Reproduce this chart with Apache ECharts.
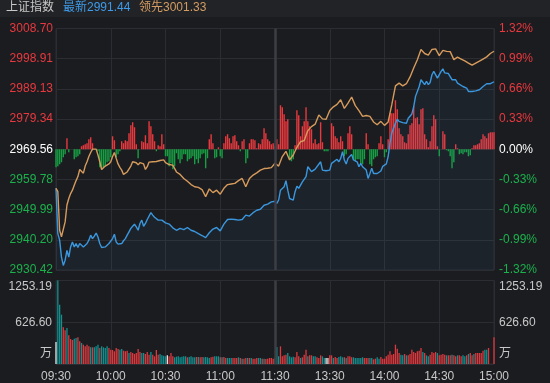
<!DOCTYPE html>
<html><head><meta charset="utf-8">
<script src="https://cdn.jsdelivr.net/npm/echarts@6/dist/echarts.min.js"></script>
<style>html,body{margin:0;padding:0;background:#1b1c20;}#c{width:550px;height:383px;}</style>
</head><body><div id="c"></div>
<script>
// ---------- data ----------
const indexName = '上证指数';
const timeLabels = ['09:30','10:00','10:30','11:00','11:30','13:30','14:00','14:30','15:00'];
const leftLabels = ['2930.42','2940.20','2949.99','2959.78','2969.56','2979.34','2989.13','2998.91','3008.70'];
const pctLabels = ['-1.32%','-0.99%','-0.66%','-0.33%','0.00%','0.33%','0.66%','0.99%','1.32%'];
const volLabels = ['万','626.60','1253.19'];
const priceMin = 2930.42, priceMax = 3008.70, volMax = 1253.19;

const priceMinute = [0,1,2,3,4,5,6,7,8,9,10,11,12,13,14,15,16,17,18,19,20,21,22,23,24,25,26,27,28,29,30,31,32,33,34,35,36,37,38,39,40,41,42,43,44,45,46,47,48,49,50,51,52,53,54,55,56,57,58,59,60,
62,64,66,68,70,72,74,76,78,80,82,84,86,88,90,92,94,96,98,100,102,104,106,108,110,112,114,116,118,120,
121,122,123,125,126,127,128,130,131,132,133,135,137,138,139,140,142,143,145,146,148,150,151,152,154,155,156,157,158,159,160,162,163,165,166,167,168,170,171,172,173,174,175,176,177,178,179,181,
182,183,184,186,187,188,189,190,192,193,195,196,197,199,200,201,202,203,204,205,206,207,208,209,210,211,212,213,215,216,217,218,219,220,221,223,225,226,228,229,230,232,234,235,236,238,239,240];
const priceValue = [2956.9,2942.2,2940.1,2934.6,2931.9,2933.6,2936.8,2934.6,2937.9,2939.5,2937.9,2939.0,2937.7,2939.0,2938.4,2937.9,2938.4,2939.0,2940.1,2941.7,2940.6,2941.4,2942.4,2941.1,2939.0,2937.7,2937.4,2937.9,2938.4,2939.0,2939.5,2940.6,2942.0,2939.5,2938.8,2939.0,2939.0,2939.9,2940.6,2941.7,2942.8,2943.9,2944.6,2945.3,2944.4,2943.3,2945.5,2946.6,2944.6,2945.5,2946.8,2947.1,2949.0,2948.2,2947.5,2947.1,2946.6,2946.3,2946.6,2946.4,2945.7,
2945.3,2944.1,2943.3,2943.9,2943.5,2944.2,2943.3,2942.9,2942.2,2941.6,2940.9,2942.5,2943.7,2944.2,2943.1,2945.3,2946.8,2946.9,2946.8,2946.6,2946.8,2948.2,2947.9,2949.0,2949.8,2950.1,2951.4,2951.8,2952.5,2952.7,
2952.0,2953.1,2956.3,2957.4,2959.4,2956.3,2953.6,2953.1,2955.8,2957.6,2956.9,2959.0,2960.7,2963.9,2963.4,2962.3,2963.1,2963.4,2965.5,2962.8,2962.6,2962.8,2965.0,2965.5,2966.3,2965.5,2966.6,2968.8,2966.1,2964.8,2966.6,2967.9,2966.1,2965.5,2963.9,2965.0,2963.9,2962.8,2960.1,2961.7,2963.4,2961.7,2961.2,2961.7,2961.5,2962.5,2964.0,2964.8,
2967.2,2971.5,2974.8,2978.0,2979.3,2978.6,2979.1,2978.2,2978.0,2979.6,2981.0,2983.4,2986.7,2989.9,2992.1,2992.6,2990.5,2991.6,2990.5,2991.2,2993.7,2994.8,2995.4,2992.6,2992.1,2994.8,2995.6,2994.3,2994.1,2993.7,2992.1,2991.6,2992.1,2991.0,2990.5,2989.9,2989.4,2988.3,2988.3,2988.6,2988.5,2988.85,2989.9,2990.2,2990.8,2990.8,2991.2,2991.44];

const leadMinute = [0,1,2,3,4,5,6,7,8,9,10,11,12,13,14,15,16,17,18,19,20,21,22,23,24,25,26,27,28,29,30,31,32,33,34,35,36,37,38,39,40,41,42,43,44,45,46,47,48,49,50,51,52,53,54,55,56,57,58,59,60,
62,64,66,68,70,72,74,76,78,80,82,84,86,88,90,92,94,96,98,100,102,104,106,108,110,112,114,116,118,120,
122,124,126,128,130,132,134,136,138,140,142,144,146,148,150,152,154,156,158,160,162,164,166,168,170,172,174,176,178,180,
182,184,186,188,190,192,194,196,198,200,202,204,206,208,210,212,214,216,218,220,222,224,226,228,230,232,234,236,238,240];
const leadValue = [2956.9,2955.8,2943.3,2941.2,2940.9,2946.0,2951.5,2953.6,2955.2,2956.3,2957.9,2959.4,2960.7,2963.0,2962.8,2961.8,2964.1,2965.5,2967.2,2968.5,2969.6,2969.1,2969.6,2967.7,2965.5,2963.0,2962.8,2964.1,2964.1,2964.8,2965.5,2967.2,2968.5,2966.6,2964.8,2963.7,2962.8,2961.4,2961.5,2962.2,2962.8,2964.1,2965.5,2966.1,2965.2,2964.5,2965.2,2965.4,2964.8,2963.0,2963.9,2965.4,2965.9,2965.5,2966.1,2965.6,2965.9,2965.9,2966.3,2966.1,2965.2,
2964.6,2964.4,2962.2,2961.4,2960.1,2959.2,2958.1,2957.4,2957.2,2956.5,2954.2,2956.7,2955.5,2956.3,2955.0,2956.9,2958.1,2958.3,2958.5,2959.4,2960.1,2957.4,2960.1,2961.2,2961.9,2962.8,2963.3,2963.4,2963.6,2965.0,
2964.1,2967.2,2968.9,2966.1,2967.7,2970.2,2972.0,2972.4,2975.6,2976.9,2977.7,2980.7,2979.4,2979.3,2982.1,2983.3,2984.1,2985.6,2982.8,2984.5,2986.5,2983.7,2982.1,2980.2,2980.5,2980.2,2978.4,2977.5,2978.6,2977.3,
2978.4,2984.0,2990.1,2991.0,2990.1,2990.8,2993.0,2995.9,2998.6,3001.9,3000.6,3000.1,3001.9,3002.1,2999.9,3001.6,3001.3,3001.2,2998.6,2999.4,2998.8,2998.2,2997.5,2996.8,2997.5,2998.1,2998.8,2999.5,3000.6,3001.33];

// red/green strength bars, one per minute (0 = 09:30 ... 240 = 15:00)
const diffValue = [
-18,-17,-15,-13,-8,-5,11,-3,0,0,
-10,-8,-7,-5,3,4,5,6,10,12,
6,0,0,-2,-18,-20,-18,-17,-13,-12,
-8,13,9,-8,-5,-2,8,6,9,8,
16,24,27,22,5,-9,0,8,7,14,
6,28,23,15,8,-2,4,3,15,5,
-7,-7,-17,-14,-20,-17,-4,-10,-14,-10,
-5,-5,-12,-10,-9,-7,-15,-10,-14,-9,
-5,-4,-19,-9,10,15,6,-9,-8,2,
-7,-9,6,13,15,11,6,13,14,8,
4,-2,8,10,-14,-9,6,10,10,9,
1,6,5,10,21,16,10,8,5,6,
3,10,5,44,42,35,28,30,-10,-12,
-10,4,39,34,13,23,28,42,28,23,
20,6,10,5,6,27,7,-2,-2,-2,
0,26,23,13,11,7,13,8,-7,-5,
16,23,15,-10,-12,-10,-10,-14,-15,-10,
16,5,-15,-17,-10,-8,-7,6,13,5,
-8,-3,10,36,36,36,49,40,21,15,
13,7,6,15,24,26,43,31,32,25,
40,41,15,10,2,8,23,34,30,3,
-7,0,18,15,-1,-2,-7,-19,-13,5,
1,-5,-4,-5,-3,-3,-7,-6,1,4,
4,5,6,10,15,13,11,16,17,17,
17];

// volume per minute (万) and direction: 1 up, -1 down, 0 flat
const volValue = [
330,1253,890,740,550,505,540,430,375,360,
380,390,400,340,315,290,265,290,265,250,
250,250,265,290,240,265,250,240,265,240,
215,210,190,240,225,215,225,200,190,200,
165,180,165,150,165,225,180,165,165,150,
180,140,180,140,115,210,140,150,130,125,
115,130,115,165,115,100,110,115,100,110,
115,115,100,105,115,100,100,105,105,100,
105,100,105,100,90,100,110,115,115,115,
100,100,105,90,90,90,90,90,90,90,
100,90,80,80,90,90,90,90,80,80,
90,90,90,80,80,75,80,90,90,80,
90,255,115,265,115,130,140,165,115,100,
110,100,180,115,90,100,140,215,115,130,
130,115,115,100,90,130,115,90,90,90,
130,130,90,105,90,105,115,100,100,90,
115,115,100,100,90,90,90,90,100,90,
90,90,90,90,70,80,100,80,105,80,
80,115,140,190,140,150,290,230,165,140,
130,150,130,130,150,215,180,165,190,200,
240,180,165,130,115,140,180,165,180,165,
130,140,150,140,130,130,130,140,130,115,
130,130,115,130,115,130,150,165,130,150,
165,165,165,165,200,215,215,240,0,0,
400];
const volDir = [
0,-1,-1,-1,1,1,-1,1,1,1,
-1,-1,1,1,-1,1,1,1,1,-1,
1,-1,-1,-1,1,-1,-1,-1,-1,1,
1,1,1,1,1,-1,-1,1,1,1,
-1,1,1,1,1,1,1,-1,-1,1,
1,1,-1,1,1,1,1,-1,-1,-1,
-1,0,1,1,1,-1,-1,-1,-1,-1,
-1,-1,1,-1,-1,-1,-1,1,-1,1,
1,-1,-1,-1,-1,1,1,-1,-1,-1,
1,-1,1,1,-1,-1,-1,1,1,1,
-1,1,-1,1,1,-1,1,-1,1,1,
1,-1,-1,1,-1,1,1,1,1,1,
-1,-1,-1,1,1,1,1,-1,-1,-1,
-1,1,1,1,-1,1,1,1,-1,1,
1,-1,-1,1,1,1,-1,-1,0,0,
1,1,-1,1,1,-1,-1,-1,1,-1,
1,1,1,-1,-1,-1,-1,-1,-1,1,
1,1,-1,-1,1,1,-1,-1,1,1,
1,1,1,1,1,1,1,1,1,-1,
-1,1,-1,1,1,1,1,1,1,1,
1,-1,1,-1,-1,1,1,1,1,-1,
1,1,1,1,-1,1,1,-1,1,1,
-1,1,1,-1,-1,1,-1,1,1,-1,
1,1,1,1,1,-1,-1,1,1,1,
1];

// ---------- chart ----------
const FONT = '"Liberation Sans", "Noto Sans CJK SC", sans-serif';
const RED = '#e8393e', GREEN = '#1bb24c', GRID = '#2c2d32';
const chart = echarts.init(document.getElementById('c'), null, {renderer: 'canvas'});
const lastPrice = priceValue[priceValue.length - 1];
const lastLead = leadValue[leadValue.length - 1];
const labelColor = v => v > 4 ? RED : (v < 4 ? GREEN : '#ffffff');
const volLabel = v => v >= volMax - 1e-6 ? '{t|' + volLabels[2] + '}' : (v === 0 ? '{b|' + volLabels[0] + '}' : volLabels[1]);
const volRich = {
  t: {padding: [13, 0, 0, 0], color: '#c8c8c8', fontSize: 12, fontFamily: FONT},
  b: {padding: [0, 0, 20, 0], color: '#c8c8c8', fontSize: 12, fontFamily: FONT}
};
const sepLine = {
  silent: true, symbol: 'none', label: {show: false},
  lineStyle: {color: '#3d3e44', width: 2.5, type: 'solid'},
  data: [{xAxis: 120}]
};

chart.setOption({
  animation: false,
  backgroundColor: '#1b1c20',
  textStyle: {fontFamily: FONT},
  graphic: [
    {type: 'rect', left: 0, top: 0, shape: {width: 550, height: 17}, style: {fill: '#222327'}},
    {type: 'text', left: 6, top: 2, style: {text: indexName, fill: '#c8c8c8', font: '12px ' + FONT}},
    {type: 'text', left: 63, top: 2, style: {text: '最新' + lastPrice.toFixed(2), fill: '#3d9be9', font: '12px ' + FONT}},
    {type: 'text', left: 139, top: 2, style: {text: '领先' + lastLead.toFixed(2), fill: '#d39c62', font: '12px ' + FONT}}
  ],
  grid: [
    {left: 56, right: 56, top: 28.5, height: 241.5, show: true, borderColor: GRID, borderWidth: 1},
    {left: 56, right: 56, top: 280.5, height: 83.5, show: true, borderColor: GRID, borderWidth: 1}
  ],
  xAxis: [
    {type: 'value', gridIndex: 0, min: 0, max: 240, interval: 30,
     axisLine: {show: false}, axisTick: {show: false}, axisLabel: {show: false},
     splitLine: {show: true, lineStyle: {color: GRID, width: 1}}},
    {type: 'value', gridIndex: 1, min: 0, max: 240, interval: 30,
     axisLine: {show: false}, axisTick: {show: false},
     axisLabel: {show: true, color: '#c8c8c8', fontSize: 12, fontFamily: FONT, margin: 7,
                 formatter: v => timeLabels[Math.round(v / 30)]},
     splitLine: {show: true, lineStyle: {color: GRID, width: 1}}}
  ],
  yAxis: [
    {type: 'value', gridIndex: 0, min: priceMin, max: priceMax, show: false, splitLine: {show: false}},
    {type: 'value', gridIndex: 0, min: 0, max: 8, interval: 1, position: 'left',
     axisLine: {show: false}, axisTick: {show: false},
     axisLabel: {show: true, margin: 3, fontSize: 12, fontFamily: FONT,
                 formatter: v => leftLabels[Math.round(v)], color: v => labelColor(Math.round(v))},
     splitLine: {show: true, lineStyle: {color: GRID, width: 1}}},
    {type: 'value', gridIndex: 0, min: 0, max: 8, interval: 1, position: 'right',
     axisLine: {show: false}, axisTick: {show: false},
     axisLabel: {show: true, margin: 5, fontSize: 12, fontFamily: FONT,
                 formatter: v => pctLabels[Math.round(v)], color: v => labelColor(Math.round(v))},
     splitLine: {show: false}},
    {type: 'value', gridIndex: 0, min: -120.75, max: 120.75, show: false, splitLine: {show: false}},
    {type: 'value', gridIndex: 1, min: 0, max: volMax, interval: volMax / 2, position: 'left',
     axisLine: {show: false}, axisTick: {show: false},
     axisLabel: {show: true, margin: 4, color: '#c8c8c8', fontSize: 12, fontFamily: FONT, formatter: volLabel, rich: volRich},
     splitLine: {show: true, lineStyle: {color: GRID, width: 1}}},
    {type: 'value', gridIndex: 1, min: 0, max: volMax, interval: volMax / 2, position: 'right',
     axisLine: {show: false}, axisTick: {show: false},
     axisLabel: {show: true, margin: 5, color: '#c8c8c8', fontSize: 12, fontFamily: FONT, formatter: volLabel, rich: volRich},
     splitLine: {show: false}}
  ],
  series: [
    {type: 'bar', xAxisIndex: 0, yAxisIndex: 3, barWidth: 1.4, z: 1,
     data: diffValue.map((v, i) => [i, v]),
     itemStyle: {color: p => p.value[1] >= 0 ? RED : '#17a043'},
     markLine: sepLine},
    {type: 'line', xAxisIndex: 0, yAxisIndex: 0, z: 3, showSymbol: false, symbol: 'none',
     data: priceMinute.map((m, i) => [m, priceValue[i]]),
     lineStyle: {color: '#3a97de', width: 1.4},
     areaStyle: {origin: 'start', color: 'rgba(70,140,215,0.09)'}},
    {type: 'line', xAxisIndex: 0, yAxisIndex: 0, z: 4, showSymbol: false, symbol: 'none',
     data: leadMinute.map((m, i) => [m, leadValue[i]]),
     lineStyle: {color: '#d69b5c', width: 1.4}},
    {type: 'bar', xAxisIndex: 1, yAxisIndex: 4, barWidth: 1.3, z: 2,
     data: volValue.map((v, i) => [i, v]),
     itemStyle: {color: p => volDir[p.dataIndex] > 0 ? '#dc383d' : (volDir[p.dataIndex] < 0 ? '#10908f' : '#e6e6e6')},
     markLine: sepLine}
  ]
});
</script>
</body></html>
